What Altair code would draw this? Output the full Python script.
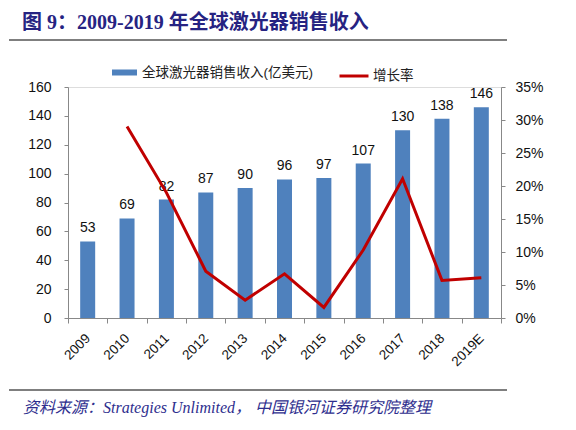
import altair as alt
import pandas as pd

years = ["2009", "2010", "2011", "2012", "2013", "2014", "2015", "2016", "2017", "2018", "2019E"]
revenue = [53, 69, 82, 87, 90, 96, 97, 107, 130, 138, 146]
growth = [None, 0.290, 0.190, 0.071, 0.027, 0.067, 0.016, 0.103, 0.211, 0.057, 0.061]

bar_name = "全球激光器销售收入(亿美元)"
line_name = "增长率"
title_text = "图 9：2009-2019 年全球激光器销售收入"
source_text = "资料来源：Strategies Unlimited， 中国银河证券研究院整理"

df = pd.DataFrame({"year": years, "revenue": revenue, "growth": growth})
df["bar_s"] = bar_name
df["line_s"] = line_name

SANS = "'Liberation Sans', 'Noto Sans CJK SC', sans-serif"
SERIF = "'Liberation Serif', 'Noto Sans CJK SC', serif"

xenc = alt.X("year:N", sort=years, title=None,
             scale=alt.Scale(paddingInner=0, paddingOuter=0),
             axis=alt.Axis(labelAngle=-45, tickBand="extent", tickSize=5,
                           domainColor="#888888", tickColor="#888888",
                           labelFont=SANS, labelFontSize=13.5, labelColor="#111111",
                           labelPadding=8, labelOffset=-5, grid=False))

base = alt.Chart(df)

rev_axis = alt.Axis(values=list(range(0, 161, 20)), grid=False, tickSize=4,
                    labelOverlap=False,
                    domainColor="#888888", tickColor="#888888",
                    labelFont=SANS, labelFontSize=14, labelColor="#111111",
                    labelPadding=13)
yrev = alt.Y("revenue:Q", title=None, scale=alt.Scale(domain=[0, 160]), axis=rev_axis)

bars = base.mark_bar(size=15, color="#4F81BD").encode(
    x=xenc,
    y=yrev,
    color=alt.Color("bar_s:N", title=None,
                    scale=alt.Scale(domain=[bar_name], range=["#4F81BD"]),
                    legend=alt.Legend(orient="none", legendX=44, legendY=-27,
                                      direction="horizontal", padding=0,
                                      symbolType="M-1,-0.24H1V0.24H-1Z", symbolSize=625,
                                      symbolStrokeWidth=0, symbolOpacity=1,
                                      labelOffset=5, labelFont=SANS, labelFontSize=13.5,
                                      labelLimit=400, labelColor="#222222")),
)

labels = base.mark_text(baseline="alphabetic", dy=-9, font=SANS, fontSize=14,
                        color="#111111").encode(
    x=alt.X("year:N", sort=years),
    y=yrev,
    text=alt.Text("revenue:Q"),
)

line = base.transform_filter("isValid(datum.growth)").mark_line(
    strokeWidth=3, color="#C00000").encode(
    x=alt.X("year:N", sort=years),
    y=alt.Y("growth:Q", title=None,
            scale=alt.Scale(domain=[0, 0.35]),
            axis=alt.Axis(orient="right", format=".0%",
                          values=[0, 0.05, 0.10, 0.15, 0.20, 0.25, 0.30, 0.35],
                          grid=False, tickSize=4, labelOverlap=False,
                          domainColor="#888888", tickColor="#888888",
                          labelFont=SANS, labelFontSize=14, labelColor="#111111",
                          labelPadding=10)),
    stroke=alt.Stroke("line_s:N", title=None,
                      scale=alt.Scale(domain=[line_name], range=["#C00000"]),
                      legend=alt.Legend(orient="none", legendX=270, legendY=-27,
                                        direction="horizontal", padding=0,
                                        symbolType="stroke", symbolSize=841,
                                        symbolStrokeWidth=3,
                                        labelOffset=3, labelFont=SANS, labelFontSize=13.5,
                                        labelLimit=200, labelColor="#222222")),
)

one = alt.Data(values=[{"a": 1}])

title_mark = alt.Chart(one).mark_text(
    align="left", baseline="middle", font=SERIF, fontSize=20, fontWeight="bold",
    color="#262382").encode(
    x=alt.value(-46), y=alt.value(-64), text=alt.value(title_text))

source_mark = alt.Chart(one).mark_text(
    align="left", baseline="middle", font=SERIF, fontSize=16, fontStyle="italic",
    color="#2E2E8E").encode(
    x=alt.value(-45), y=alt.value(321), text=alt.value(source_text))

rule_top = alt.Chart(one).mark_rule(color="#555555", strokeWidth=1.5).encode(
    x=alt.value(-59), x2=alt.value(439), y=alt.value(-47))
rule_bot = alt.Chart(one).mark_rule(color="#555555", strokeWidth=1.5).encode(
    x=alt.value(-59), x2=alt.value(439), y=alt.value(303))

left = alt.layer(bars, labels)
main = alt.layer(left, line).resolve_scale(y="independent")

chart = alt.layer(main, title_mark, source_mark, rule_top, rule_bot).properties(
    width=433, height=231,
    autosize=alt.AutoSizeParams(type="none"),
    padding={"left": 60, "top": 79, "right": 67, "bottom": 104},
).configure_view(stroke=None).configure(background="white")

chart.save("out.html", embed_options={"renderer": "svg", "actions": False})
